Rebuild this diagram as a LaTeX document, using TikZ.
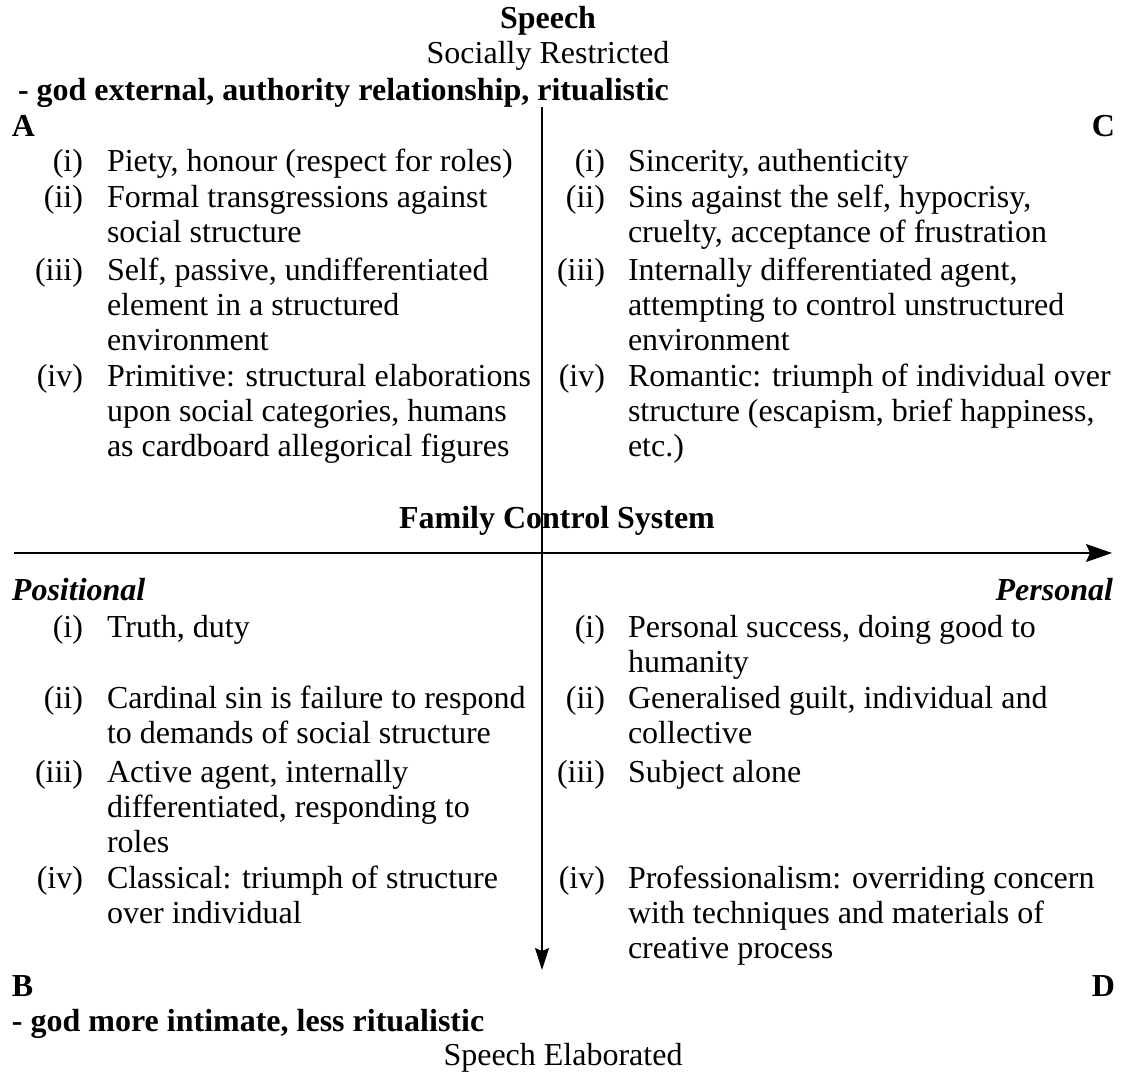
\documentclass[tikz,border=0pt]{standalone}
\usepackage{fontspec}
\setmainfont{Liberation Serif}
\usetikzlibrary{arrows.meta}
\newcommand{\mysz}{\fontsize{32}{35}\selectfont}
\newcommand{\lines}[1]{\parbox[t]{520pt}{\mysz\raggedright #1}}
\tikzset{
  txt/.style={inner sep=0pt, outer sep=0pt, font=\mysz},
  lbl/.style={txt, anchor=base east},
  body/.style={txt, anchor=base west},
  hd/.style={txt, font=\mysz\bfseries},
  hdi/.style={txt, font=\mysz\bfseries\itshape},
  axisline/.style={line width=1.2pt, draw=black}
}
\begin{document}
\begin{tikzpicture}[x=1pt, y=-1pt]
\useasboundingbox (0,0) rectangle (1125,1074);

% headings
\node[hd, anchor=base] (sp) at (548,28) {Speech};
\node[txt, anchor=base] (sr) at (548,63) {Socially Restricted};
\node[hd, anchor=base west] (ge) at (18,100) {- god external, authority relationship, ritualistic};
\node[hd, anchor=base west] (qa) at (12,136) {A};
\node[hd, anchor=base east] (qc) at (1115,136) {C};
\node[hd, anchor=base] (fcs) at (557,528) {Family Control System};
\node[hdi, anchor=base west] (pos) at (12,600) {Positional};
\node[hdi, anchor=base east] (per) at (1113,600) {Personal};
\node[hd, anchor=base west] (qb) at (12,996) {B};
\node[hd, anchor=base east] (qd) at (1115,996) {D};
\node[hd, anchor=base west] (gm) at (12,1031) {- god more intimate, less ritualistic};
\node[txt, anchor=base] (se) at (563,1065) {Speech Elaborated};

% quadrant A
\node[lbl] (a1l) at (83,171) {(i)};
\node[body] (a1) at (107,171) {\lines{Piety, honour (respect for roles)}};
\node[lbl] (a2l) at (83,207) {(ii)};
\node[body] (a2) at (107,207) {\lines{Formal transgressions against\\social structure}};
\node[lbl] (a3l) at (83,280) {(iii)};
\node[body] (a3) at (107,280) {\lines{Self, passive, undifferentiated\\element in a structured\\environment}};
\node[lbl] (a4l) at (83,386) {(iv)};
\node[body] (a4) at (107,386) {\lines{Primitive: structural elaborations\\upon social categories, humans\\as cardboard allegorical figures}};

% quadrant C
\node[lbl] (c1l) at (605,171) {(i)};
\node[body] (c1) at (628,171) {\lines{Sincerity, authenticity}};
\node[lbl] (c2l) at (605,207) {(ii)};
\node[body] (c2) at (628,207) {\lines{Sins against the self, hypocrisy,\\cruelty, acceptance of frustration}};
\node[lbl] (c3l) at (605,280) {(iii)};
\node[body] (c3) at (628,280) {\lines{Internally differentiated agent,\\attempting to control unstructured\\environment}};
\node[lbl] (c4l) at (605,386) {(iv)};
\node[body] (c4) at (628,386) {\lines{Romantic: triumph of individual over\\structure (escapism, brief happiness,\\etc.)}};

% quadrant B
\node[lbl] (b1l) at (83,637) {(i)};
\node[body] (b1) at (107,637) {\lines{Truth, duty}};
\node[lbl] (b2l) at (83,708) {(ii)};
\node[body] (b2) at (107,708) {\lines{Cardinal sin is failure to respond\\to demands of social structure}};
\node[lbl] (b3l) at (83,782) {(iii)};
\node[body] (b3) at (107,782) {\lines{Active agent, internally\\differentiated, responding to\\roles}};
\node[lbl] (b4l) at (83,888) {(iv)};
\node[body] (b4) at (107,888) {\lines{Classical: triumph of structure\\over individual}};

% quadrant D
\node[lbl] (d1l) at (605,637) {(i)};
\node[body] (d1) at (628,637) {\lines{Personal success, doing good to\\humanity}};
\node[lbl] (d2l) at (605,708) {(ii)};
\node[body] (d2) at (628,708) {\lines{Generalised guilt, individual and\\collective}};
\node[lbl] (d3l) at (605,782) {(iii)};
\node[body] (d3) at (628,782) {\lines{Subject alone}};
\node[lbl] (d4l) at (605,888) {(iv)};
\node[body] (d4) at (628,888) {\lines{Professionalism: overriding concern\\with techniques and materials of\\creative process}};

% axes
\coordinate (hs) at (14,553);
\coordinate (he) at (1112,553);
\coordinate (vs) at (542,107);
\coordinate (ve) at (542,970);
\draw[axisline, -{Stealth[length=26pt, width=18pt, inset=4pt]}] (hs) -- (he);
\draw[axisline, -{Stealth[length=22pt, width=14pt, inset=3pt]}] (vs) -- (ve);
\end{tikzpicture}
\end{document}
